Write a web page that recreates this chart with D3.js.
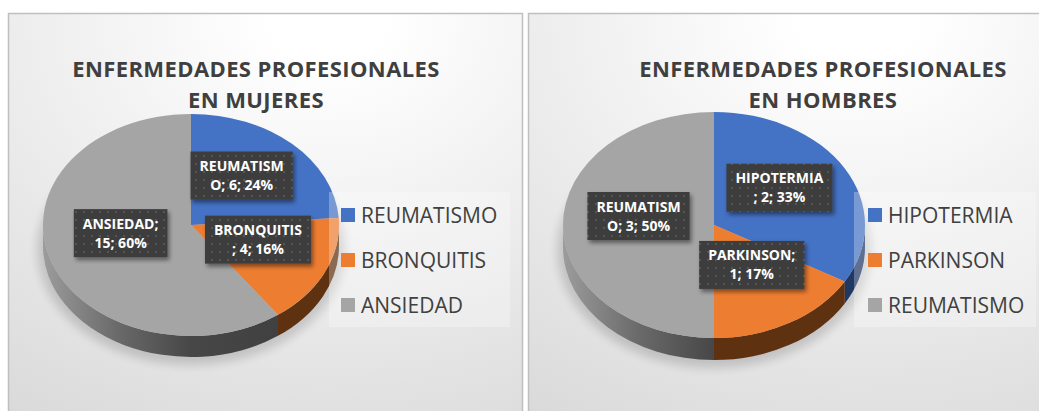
<!DOCTYPE html>
<html>
<head>
<meta charset="utf-8">
<script src="https://cdn.jsdelivr.net/npm/d3@7"></script>
<style>
  body { margin: 0; background: #fff; }
  svg { display: block; }
</style>
</head>
<body>
<svg id="chart"></svg>
<script>
var mujeresTitle = ['ENFERMEDADES PROFESIONALES', 'EN MUJERES'];
var mujeresCategories = ['REUMATISMO', 'BRONQUITIS', 'ANSIEDAD'];
var mujeresValues = [6, 4, 15];
var mujeresLabels = [['REUMATISM', 'O; 6; 24%'], ['BRONQUITIS', '; 4; 16%'], ['ANSIEDAD;', '15; 60%']];

var hombresTitle = ['ENFERMEDADES PROFESIONALES', 'EN HOMBRES'];
var hombresCategories = ['HIPOTERMIA', 'PARKINSON', 'REUMATISMO'];
var hombresValues = [2, 1, 3];
var hombresLabels = [['HIPOTERMIA', '; 2; 33%'], ['PARKINSON;', '1; 17%'], ['REUMATISM', 'O; 3; 50%']];

var colors = ['#4472C4', '#ED7D31', '#A5A5A5'];
var sideColors = ['#203864', '#5e3111', null];

var W = 1039, H = 411;

var svg = d3.select('#chart').attr('width', W).attr('height', H);
var defs = svg.append('defs');

var bg = defs.append('radialGradient').attr('id', 'bgGrad')
    .attr('cx', 0.62).attr('cy', 0).attr('r', 1.15);
bg.append('stop').attr('offset', 0.1).attr('stop-color', '#ffffff');
bg.append('stop').attr('offset', 1).attr('stop-color', '#d9d9d9');

var pat = defs.append('pattern').attr('id', 'dots')
    .attr('width', 8).attr('height', 8).attr('patternUnits', 'userSpaceOnUse');
pat.append('rect').attr('width', 8).attr('height', 8).attr('fill', '#3d3d3d');
pat.append('rect').attr('x', 3).attr('y', 3).attr('width', 2).attr('height', 2).attr('fill', '#575757');

var sh = defs.append('filter').attr('id', 'boxShadow')
    .attr('x', '-20%').attr('y', '-20%').attr('width', '150%').attr('height', '150%');
sh.append('feDropShadow').attr('dx', 2).attr('dy', 3).attr('stdDeviation', 2)
    .attr('flood-color', '#000').attr('flood-opacity', 0.45);

var blur = defs.append('filter').attr('id', 'pieShadow')
    .attr('x', '-20%').attr('y', '-20%').attr('width', '140%').attr('height', '140%');
blur.append('feGaussianBlur').attr('stdDeviation', 5);

// panels
svg.append('rect').attr('x', 8.5).attr('y', 13.5).attr('width', 514).attr('height', 420)
    .attr('fill', 'url(#bgGrad)').attr('stroke', '#bfbfbf').attr('stroke-width', 1.5);
svg.append('rect').attr('x', 528.5).attr('y', 13.5).attr('width', 530).attr('height', 420)
    .attr('fill', 'url(#bgGrad)').attr('stroke', '#bfbfbf').attr('stroke-width', 1.5);

var pie = d3.pie().sort(null).value(function(d) { return d; });

function drawChart(cfg, title, cats, values, labels) {
    var g = svg.append('g');
    var rx = cfg.rx, ry = cfg.ry, depth = cfg.depth;
    var arcs = pie(values);

    // title
    g.selectAll('.title').data(title).enter().append('text')
        .attr('x', cfg.titleX)
        .attr('y', function(d, i) { return 77 + i * 31; })
        .attr('text-anchor', 'middle')
        .attr('font-family', 'Open Sans, sans-serif')
        .attr('font-weight', 'bold')
        .attr('font-size', 22)
        .attr('letter-spacing', 0.4)
        .attr('fill', '#3f3f3f')
        .text(function(d) { return d; });

    // soft shadow under the pie
    g.append('ellipse')
        .attr('cx', cfg.cx).attr('cy', cfg.cy + depth + 3)
        .attr('rx', rx + 6).attr('ry', ry + 5)
        .attr('fill', '#000').attr('opacity', 0.15)
        .attr('filter', 'url(#pieShadow)');

    function pt(a, dy) {
        return [cfg.cx + rx * Math.sin(a), cfg.cy - ry * Math.cos(a) + dy];
    }

    // side walls (front half only)
    arcs.forEach(function(d, i) {
        var a0 = Math.max(d.startAngle, Math.PI / 2);
        var a1 = Math.min(d.endAngle, 3 * Math.PI / 2);
        if (a1 <= a0) return;
        var p0 = pt(a0, 0), p1 = pt(a1, 0), q1 = pt(a1, depth), q0 = pt(a0, depth);
        var path = 'M' + p0 + 'A' + rx + ',' + ry + ' 0 0 1 ' + p1 +
            'L' + q1 + 'A' + rx + ',' + ry + ' 0 0 0 ' + q0 + 'Z';
        var fill = sideColors[i] || 'url(#sideGray' + cfg.id + ')';
        g.append('path').attr('d', path).attr('fill', fill);
    });

    // top face
    var arc = d3.arc().innerRadius(0).outerRadius(rx);
    var top = g.append('g')
        .attr('transform', 'translate(' + cfg.cx + ',' + cfg.cy + ') scale(1,' + (ry / rx) + ')');
    top.selectAll('path').data(arcs).enter().append('path')
        .attr('d', arc)
        .attr('fill', function(d, i) { return colors[i]; });

    // legend background and items
    g.append('rect')
        .attr('x', cfg.legX).attr('y', 192).attr('width', cfg.legW).attr('height', 135)
        .attr('fill', '#fff').attr('opacity', 0.28);
    var leg = g.selectAll('.leg').data(cats).enter().append('g')
        .attr('transform', function(d, i) { return 'translate(' + cfg.legSq + ',' + (215 + i * 45) + ')'; });
    leg.append('rect').attr('x', 0).attr('y', -7).attr('width', 14).attr('height', 14)
        .attr('fill', function(d, i) { return colors[i]; });
    leg.append('text').attr('x', 20).attr('y', 7.5)
        .attr('font-family', 'Open Sans, sans-serif')
        .attr('font-size', 21)
        .attr('fill', '#404040')
        .text(function(d) { return d; });

    // data labels
    var labelArc = d3.arc().innerRadius(rx * 0.5).outerRadius(rx * 0.5);
    arcs.forEach(function(d, i) {
        var c = labelArc.centroid(d);
        var lx = cfg.cx + c[0];
        var ly = cfg.cy + c[1] * ry / rx - 9;
        var lg = g.append('g');
        var box = lg.append('rect').attr('fill', 'url(#dots)').attr('filter', 'url(#boxShadow)');
        var texts = lg.selectAll('text').data(labels[i]).enter().append('text')
            .attr('x', lx)
            .attr('y', function(t, j) { return ly - 4.5 + j * 19; })
            .attr('text-anchor', 'middle')
            .attr('font-family', 'Open Sans, sans-serif')
            .attr('font-weight', 'bold')
            .attr('font-size', 14)
            .attr('fill', '#fff')
            .text(function(t) { return t; });
        var w = 0;
        texts.each(function() { w = Math.max(w, this.getComputedTextLength()); });
        w += 18;
        box.attr('x', lx - w / 2).attr('y', ly - 24).attr('width', w).attr('height', 48);
    });
}

function sideGradient(id, x0, x1) {
    var gr = defs.append('linearGradient').attr('id', 'sideGray' + id)
        .attr('gradientUnits', 'userSpaceOnUse')
        .attr('x1', x0).attr('x2', x1).attr('y1', 0).attr('y2', 0);
    gr.append('stop').attr('offset', 0).attr('stop-color', '#9c9c9c');
    gr.append('stop').attr('offset', 0.25).attr('stop-color', '#6a6a6a');
    gr.append('stop').attr('offset', 0.5).attr('stop-color', '#474747');
    gr.append('stop').attr('offset', 1).attr('stop-color', '#3c3c3c');
}

var mujeresCfg = {id: 'M', cx: 191, cy: 225, rx: 148, ry: 111, depth: 21,
    titleX: 256, legX: 329, legW: 181, legSq: 341};
var hombresCfg = {id: 'H', cx: 714, cy: 225, rx: 151, ry: 113, depth: 22,
    titleX: 823, legX: 854, legW: 182, legSq: 868};

sideGradient('M', mujeresCfg.cx - mujeresCfg.rx, mujeresCfg.cx + mujeresCfg.rx);
sideGradient('H', hombresCfg.cx - hombresCfg.rx, hombresCfg.cx + hombresCfg.rx);

drawChart(mujeresCfg, mujeresTitle, mujeresCategories, mujeresValues, mujeresLabels);
drawChart(hombresCfg, hombresTitle, hombresCategories, hombresValues, hombresLabels);
</script>
</body>
</html>
